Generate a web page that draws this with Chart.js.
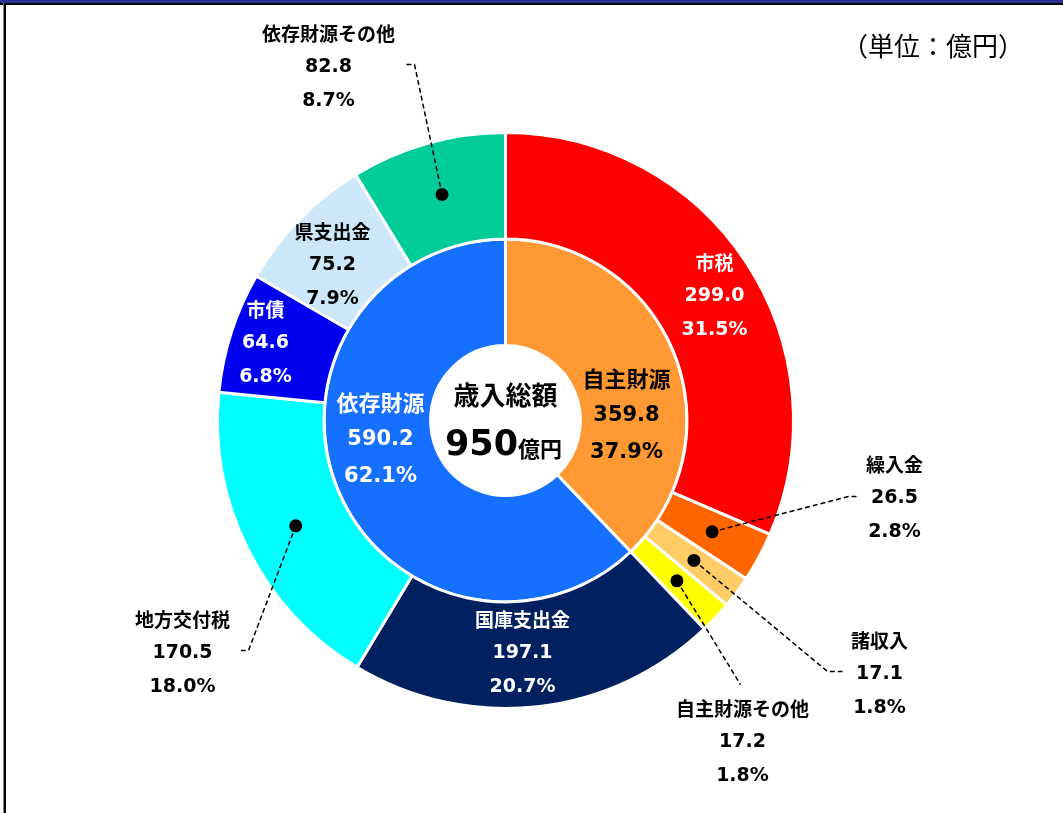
<!DOCTYPE html>
<html lang="ja">
<head>
<meta charset="utf-8">
<title>歳入総額</title>
<script src="https://cdn.jsdelivr.net/npm/chart.js@4/dist/chart.umd.min.js"></script>
<style>
  body { margin: 0; background: #fff; }
  #wrap { position: relative; width: 1063px; height: 813px; }
</style>
</head>
<body>
<div id="wrap"><canvas id="revenueChart" width="1063" height="813"></canvas></div>
<script>
// 歳入内訳（単位：億円）
const categories = ["市税", "繰入金", "諸収入", "自主財源その他", "国庫支出金", "地方交付税", "市債", "県支出金", "依存財源その他"];
const amounts = [299.0, 26.5, 17.1, 17.2, 197.1, 170.5, 64.6, 75.2, 82.8];
const shares = ["31.5%", "2.8%", "1.8%", "1.8%", "20.7%", "18.0%", "6.8%", "7.9%", "8.7%"];

const groups = ["自主財源", "依存財源"];
const groupAmounts = [359.8, 590.2];
const groupShares = ["37.9%", "62.1%"];

const totalTitle = "歳入総額";
const totalValue = "950";
const totalUnit = "億円";
const unitNote = "（単位：億円）";

const outerColors = ["#FF0000", "#FF6600", "#FFCC66", "#FFFF00", "#002060", "#00FFFF", "#0000F0", "#CCE8FA", "#00CC99"];
const innerColors = ["#FF9933", "#1570FF"];

// label placement relative to the chart centre (dx, dy of the middle line)
const outerLayout = [
    { dx: 209, dy: -124, color: "#fff" },
    { dx: 389, dy: 78, leader: [[343, 76], [351, 76]] },
    { dx: 374, dy: 254, leader: [[322, 251], [337, 251]] },
    { dx: 237, dy: 322, leader: [[235, 264]] },
    { dx: 17, dy: 233, color: "#fff" },
    { dx: -323, dy: 233, leader: [[-257, 230], [-265, 230]] },
    { dx: -240, dy: -77, color: "#fff" },
    { dx: -173, dy: -155 },
    { dx: -177, dy: -353, leader: [[-91, -356], [-99, -356]] }
];
const innerLayout = [
    { dx: 121, dy: -5 },
    { dx: -125, dy: 19, color: "#fff" }
];

const jpFont = '"Noto Sans CJK JP", "Noto Sans", sans-serif';
const numFont = '"DejaVu Sans", Verdana, sans-serif';

function drawBlock(ctx, x, y, lines, gap, nameSize, numSize, color) {
    ctx.fillStyle = color;
    ctx.textAlign = "center";
    ctx.textBaseline = "middle";
    ctx.font = `bold ${nameSize}px ${jpFont}`;
    ctx.fillText(lines[0], x, y - gap);
    ctx.font = `bold ${numSize}px ${numFont}`;
    ctx.fillText(lines[1], x, y);
    ctx.fillText(lines[2], x, y + gap);
}

const framePlugin = {
    id: "frame",
    beforeDraw(chart) {
        const ctx = chart.ctx;
        ctx.save();
        ctx.fillStyle = "#fff";
        ctx.fillRect(0, 0, chart.width, chart.height);
        ctx.fillStyle = "#2E3192";
        ctx.fillRect(0, 0, chart.width, 3);
        ctx.fillStyle = "#000";
        ctx.fillRect(0, 3, chart.width, 2);
        ctx.fillRect(4, 3, 2, chart.height);
        ctx.fillStyle = "#888";
        ctx.fillRect(3, 3, 1, chart.height);

        ctx.fillStyle = "#000";
        ctx.font = `26px ${jpFont}`;
        ctx.textAlign = "center";
        ctx.textBaseline = "middle";
        ctx.fillText(unitNote, 933, 46);
        ctx.restore();
    }
};

const labelPlugin = {
    id: "labels",
    afterDatasetsDraw(chart) {
        const ctx = chart.ctx;
        const outer = chart.getDatasetMeta(0).data;
        const inner = chart.getDatasetMeta(1).data;
        const cx = outer[0].x, cy = outer[0].y;
        ctx.save();

        outer.forEach((arc, i) => {
            const lay = outerLayout[i];
            const lines = [categories[i], amounts[i].toFixed(1), shares[i]];
            drawBlock(ctx, cx + lay.dx, cy + lay.dy, lines, 33.5, 19, 19, lay.color || "#000");
            if (lay.leader) {
                const p = arc.getProps(["startAngle", "endAngle", "innerRadius", "outerRadius"], true);
                const mid = (p.startAngle + p.endAngle) / 2;
                const r = (p.innerRadius + p.outerRadius) / 2;
                const dx = cx + Math.cos(mid) * r, dy = cy + Math.sin(mid) * r;
                ctx.strokeStyle = "#000";
                ctx.lineWidth = 1.5;
                ctx.setLineDash([5, 3]);
                ctx.beginPath();
                ctx.moveTo(dx, dy);
                lay.leader.forEach(pt => ctx.lineTo(cx + pt[0], cy + pt[1]));
                ctx.stroke();
                ctx.setLineDash([]);
                ctx.fillStyle = "#000";
                ctx.beginPath();
                ctx.arc(dx, dy, 6.5, 0, Math.PI * 2);
                ctx.fill();
            }
        });

        inner.forEach((arc, i) => {
            const lay = innerLayout[i];
            const lines = [groups[i], groupAmounts[i].toFixed(1), groupShares[i]];
            drawBlock(ctx, cx + lay.dx, cy + lay.dy, lines, 37, 22, 21, lay.color || "#000");
        });

        // centre caption
        ctx.fillStyle = "#000";
        ctx.textAlign = "center";
        ctx.textBaseline = "middle";
        ctx.font = `bold 26px ${jpFont}`;
        ctx.fillText(totalTitle, cx, cy - 25);
        ctx.font = `bold 35px ${numFont}`;
        const w1 = ctx.measureText(totalValue).width;
        ctx.font = `bold 22px ${jpFont}`;
        const w2 = ctx.measureText(totalUnit).width;
        const left = cx - (w1 + w2) / 2 - 2;
        ctx.textAlign = "left";
        ctx.font = `bold 35px ${numFont}`;
        ctx.fillText(totalValue, left, cy + 25);
        ctx.font = `bold 22px ${jpFont}`;
        ctx.fillText(totalUnit, left + w1, cy + 28);
        ctx.restore();
    }
};

new Chart(document.getElementById("revenueChart"), {
    type: "doughnut",
    data: {
        labels: categories,
        datasets: [
            { data: amounts, backgroundColor: outerColors, borderColor: "#fff", borderWidth: 3 },
            { data: groupAmounts, backgroundColor: innerColors, borderColor: "#fff", borderWidth: 3 }
        ]
    },
    options: {
        responsive: false,
        devicePixelRatio: 1,
        animation: false,
        cutout: "26%",
        layout: { padding: { left: 216, right: 268, top: 131, bottom: 103 } },
        plugins: {
            legend: { display: false },
            tooltip: { enabled: false }
        }
    },
    plugins: [framePlugin, labelPlugin]
});
</script>
</body>
</html>
